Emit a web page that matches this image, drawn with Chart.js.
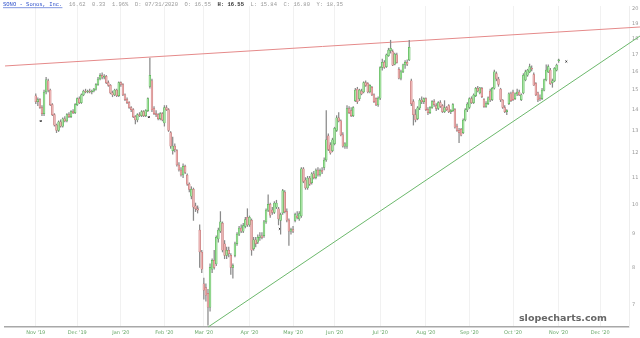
<!DOCTYPE html>
<html>
<head>
<meta charset="utf-8">
<script src="https://cdn.jsdelivr.net/npm/chart.js@4.4.1/dist/chart.umd.min.js"></script>
<style>
  html, body { margin: 0; padding: 0; background: #fff; }
</style>
</head>
<body>
<canvas id="chart" width="640" height="338"></canvas>
<script>
// daily candles, index 0 = first session of Nov '19
const opens = [14.70,14.40,14.50,14.10,13.80,14.90,15.50,15.00,14.25,13.75,13.25,13.00,13.40,13.20,13.55,13.45,13.75,13.65,13.90,13.85,
  14.25,14.55,14.35,14.75,14.95,14.90,14.95,14.90,14.95,15.05,15.30,15.60,15.80,15.70,15.75,15.40,15.25,14.85,14.75,15.00,
  14.70,15.40,15.30,14.75,14.50,14.35,14.10,14.00,13.65,13.50,13.75,13.70,13.90,13.70,13.95,15.20,15.50,14.05,13.80,13.75,
  13.55,13.80,13.35,14.10,14.00,12.90,12.10,12.30,12.10,11.50,11.30,11.10,11.45,11.10,10.75,10.30,10.55,9.95,9.85,9.13,
  8.45,7.55,7.45,7.30,6.95,7.95,8.20,8.10,8.85,9.10,9.35,8.70,8.35,8.50,8.35,8.00,8.35,8.70,9.00,9.20,
  9.10,9.25,9.55,9.30,9.45,8.55,8.82,8.75,8.90,8.95,8.95,9.40,9.80,10.00,9.80,9.72,9.90,9.85,9.45,9.70,
  10.45,9.75,9.46,9.10,9.15,9.45,9.60,9.50,9.60,11.35,10.90,10.60,10.98,10.80,11.15,11.00,11.30,11.10,11.28,11.40,
  11.71,12.75,12.35,12.10,12.40,13.00,13.60,13.45,12.80,12.30,12.30,14.05,13.95,13.70,14.45,15.05,14.55,14.95,14.90,15.40,
  15.35,14.90,15.15,14.75,14.55,14.23,14.58,16.25,16.55,16.30,16.95,17.25,17.20,16.45,17.00,16.15,15.65,16.00,16.40,16.55,
  16.70,15.50,14.40,13.75,13.55,14.08,14.48,14.40,14.55,14.00,13.85,14.10,14.40,14.20,14.05,14.35,14.20,13.90,14.10,14.20,
  13.90,13.95,14.00,13.20,13.00,13.05,12.90,13.49,13.98,14.10,14.55,14.35,14.70,15.10,14.85,15.10,14.50,14.15,14.30,14.95,
  14.50,15.10,15.90,15.60,15.05,14.48,14.10,13.90,14.30,14.80,14.90,14.55,14.80,14.90,14.50,14.85,15.55,15.82,16.00,16.20,
  15.85,15.35,14.85,14.60,14.55,15.00,15.55,16.00,16.10,15.40,15.50,16.10,16.65];
const highs = [14.80,14.60,14.55,14.20,15.00,15.70,15.60,15.05,14.30,13.80,13.30,13.45,13.50,13.60,13.65,13.80,13.85,13.95,14.00,14.30,
  14.60,14.65,14.80,15.00,15.05,15.00,15.05,15.00,15.10,15.35,15.70,15.90,15.95,15.85,15.80,15.50,15.30,14.95,15.05,15.05,
  15.45,15.45,15.35,14.80,14.60,14.40,14.15,14.05,13.70,13.80,13.85,13.95,13.95,14.00,14.60,16.80,15.60,14.15,13.95,13.80,
  13.85,13.85,14.20,14.20,14.05,12.95,12.70,12.40,12.15,11.60,11.40,11.55,11.50,11.15,10.80,10.65,10.60,10.05,9.95,9.30,
  8.50,7.70,7.55,7.40,8.10,8.25,8.50,8.95,9.20,9.75,9.40,8.80,8.60,8.60,8.40,8.10,8.75,9.05,9.25,9.30,
  9.35,9.55,9.85,9.60,9.50,8.90,8.90,8.98,9.05,9.05,9.45,9.85,10.35,10.05,9.90,10.10,10.15,9.90,9.70,10.55,
  10.50,9.85,9.50,9.20,9.25,9.70,9.75,9.75,11.40,11.40,11.00,11.05,11.05,11.20,11.25,11.35,11.40,11.35,11.40,11.80,
  13.95,12.85,12.45,12.65,13.15,13.70,13.85,13.50,12.90,12.45,14.20,14.15,14.10,14.15,15.10,15.15,15.05,15.05,15.45,15.50,
  15.40,15.30,15.20,14.80,14.60,14.65,16.30,16.75,16.65,17.05,17.40,17.90,17.30,17.10,17.10,16.25,16.10,16.45,16.65,16.70,
  17.90,15.60,14.50,14.00,14.15,14.55,14.65,14.60,14.60,14.10,14.15,14.45,14.50,14.30,14.40,14.45,14.25,14.45,14.15,14.25,
  14.00,14.30,14.05,13.30,13.10,13.10,13.55,14.05,14.35,14.60,14.65,14.80,15.15,15.20,15.15,15.15,14.55,14.40,14.65,15.05,
  15.15,16.10,16.00,15.70,15.10,14.50,14.20,14.00,14.85,14.90,15.00,14.85,15.05,15.00,14.80,15.90,16.10,16.15,16.45,16.35,
  15.95,15.40,14.90,14.75,15.10,15.60,16.40,16.40,16.20,15.60,16.25,16.45,16.75];
const lows = [14.30,14.20,14.05,13.70,13.70,14.80,14.90,14.20,13.70,13.20,12.90,12.95,13.15,13.15,13.40,13.40,13.60,13.60,13.80,13.80,
  14.20,14.30,14.30,14.70,14.85,14.85,14.85,14.80,14.90,15.00,15.25,15.55,15.60,15.60,15.35,15.20,14.80,14.65,14.70,14.65,
  14.65,15.20,14.70,14.45,14.30,14.05,13.90,13.60,13.30,13.40,13.65,13.65,13.65,13.65,13.90,15.10,13.90,13.75,13.65,13.50,
  13.50,13.45,13.20,13.95,12.95,12.20,11.95,12.05,11.45,11.25,11.05,11.00,11.15,10.70,10.45,10.20,9.45,9.75,9.70,8.00,
  7.85,7.15,7.10,6.52,6.85,7.85,7.95,8.05,8.75,9.05,8.45,8.25,8.25,8.30,7.80,7.70,8.30,8.65,8.95,9.05,
  9.05,9.20,9.25,9.25,8.35,8.50,8.60,8.70,8.80,8.85,8.90,9.35,9.75,9.55,9.65,9.68,9.85,9.30,9.00,9.65,
  9.70,9.40,8.65,9.00,9.05,9.40,9.50,9.45,9.55,10.80,10.55,10.55,10.70,10.75,10.95,10.95,11.05,11.05,11.15,11.30,
  11.65,12.10,11.95,12.05,12.35,12.95,13.40,12.75,12.25,12.20,12.20,13.80,13.65,13.65,14.40,14.30,14.45,14.75,14.85,15.20,
  14.85,14.85,14.70,14.35,14.20,14.15,14.50,16.10,16.20,16.25,16.90,17.10,16.35,16.40,16.50,15.60,15.55,15.95,16.20,16.35,
  16.65,14.20,13.25,13.40,13.50,14.00,14.30,14.30,13.95,13.75,13.80,14.05,14.15,13.95,14.00,14.10,13.85,13.85,13.95,13.85,
  13.80,13.90,13.10,12.95,12.45,12.75,12.85,13.45,13.90,14.05,14.30,14.30,14.65,14.90,14.80,14.60,14.10,14.10,14.25,14.40,
  14.45,15.05,15.50,15.20,14.40,14.05,13.85,13.75,14.25,14.40,14.45,14.50,14.70,14.70,14.45,14.80,15.50,15.75,15.95,16.05,
  15.25,14.70,14.40,14.45,14.50,14.95,15.50,15.95,15.30,15.15,15.45,16.05,16.55];
const closes = [14.40,14.50,14.10,13.80,14.90,15.55,15.00,14.25,13.75,13.25,13.00,13.40,13.20,13.55,13.45,13.75,13.65,13.90,13.85,14.25,
  14.55,14.35,14.75,14.95,14.90,14.95,14.90,14.95,15.05,15.30,15.60,15.80,15.70,15.75,15.40,15.25,14.85,14.75,15.00,14.70,
  15.40,15.30,14.75,14.50,14.35,14.10,14.00,13.65,13.50,13.75,13.70,13.90,13.70,13.95,14.55,15.80,13.98,13.80,13.75,13.55,
  13.80,13.50,14.10,14.00,13.00,12.30,12.30,12.15,11.50,11.30,11.10,11.45,11.20,10.75,10.55,10.55,9.90,9.85,9.80,8.45,
  7.95,7.38,7.25,6.95,8.00,8.20,8.00,8.90,9.13,9.40,8.50,8.35,8.50,8.40,8.00,8.05,8.70,9.00,9.20,9.10,
  9.28,9.48,9.30,9.55,8.50,8.82,8.70,8.90,8.95,8.90,9.40,9.80,10.00,9.63,9.72,10.05,10.05,9.50,9.65,10.50,
  9.75,9.46,9.10,9.15,9.10,9.65,9.55,9.68,11.35,10.85,10.60,10.98,10.75,11.15,11.00,11.30,11.10,11.28,11.22,11.70,
  12.57,12.15,12.00,12.57,13.10,13.60,13.45,12.80,12.30,12.40,14.05,13.85,13.70,14.10,15.00,14.40,15.00,14.80,15.40,15.25,
  14.90,15.25,14.75,14.40,14.23,14.58,16.25,16.55,16.25,16.99,17.29,17.40,16.39,17.05,16.55,15.65,16.00,16.40,16.55,16.45,
  17.45,14.30,13.75,13.50,14.08,14.48,14.40,14.55,14.00,13.85,14.10,14.40,14.25,14.05,14.35,14.15,13.90,14.10,14.00,13.90,
  13.95,14.25,13.15,13.00,12.90,12.78,13.49,13.98,14.28,14.55,14.35,14.74,15.10,14.95,15.12,14.65,14.15,14.30,14.60,14.48,
  15.10,16.00,15.60,15.30,14.48,14.10,13.90,13.95,14.80,14.45,14.50,14.80,14.90,14.75,14.75,15.80,16.00,16.10,16.30,16.15,
  15.27,14.74,14.48,14.55,15.00,15.55,16.10,16.30,15.35,15.50,16.20,16.39,16.70];

const monthIdx = [0, 20, 41, 62, 81, 103, 124, 144, 166, 188, 209, 230, 252, 272];
const monthLabels = ["Nov '19", "Dec '19", "Jan '20", "Feb '20", "Mar '20", "Apr '20", "May '20",
  "Jun '20", "Jul '20", "Aug '20", "Sep '20", "Oct '20", "Nov '20", "Dec '20"];
const yTicks = [7, 8, 9, 10, 11, 12, 13, 14, 15, 16, 17, 18, 19, 20];

// trend lines drawn on the chart (index, price)
const resistance = [[-14.8, 16.34], [291.2, 18.76]];
const support = [[83.2, 6.48], [291.2, 18.17]];
// small event marks
const marks = [[2.4, 13.44], [54.5, 13.63], [78, 9.85], [117.6, 9.17], [255.7, 16.6]];

const header = [
  { t: 'SONO - Sonos, Inc.', c: '#3355cc', u: true },
  { t: '  16.62  0.33  1.96%  D: 07/31/2020  O: 16.55  ', c: '#999' },
  { t: 'H: 16.55', c: '#333', b: true },
  { t: '  L: 15.84  C: 16.80  Y: 18.35', c: '#999' }
];

const textPlugin = {
  id: 'textPlugin',
  afterDraw(chart) {
    const ctx = chart.ctx;
    ctx.save();
    ctx.textBaseline = 'middle';
    let x = 3;
    header.forEach(s => {
      ctx.font = (s.b ? 'bold ' : '') + '5.5px "Liberation Mono"';
      ctx.fillStyle = s.c;
      ctx.fillText(s.t, x, 4.5);
      const w = ctx.measureText(s.t).width;
      if (s.u) {
        ctx.fillRect(x, 7.5, w, 0.6);
      }
      x += w;
    });
    ctx.font = 'bold 9.5px "DejaVu Sans"';
    ctx.fillStyle = '#666';
    ctx.textAlign = 'right';
    ctx.fillText('slopecharts.com', 607, 319);
    ctx.restore();
  }
};

const up = i => closes[i] >= opens[i];

new Chart(document.getElementById('chart'), {
  type: 'bar',
  data: {
    datasets: [
      {
        label: 'body',
        data: opens.map((o, i) => ({ x: i, y: [o, closes[i]] })),
        backgroundColor: ctx => up(ctx.dataIndex) ? '#a5e3a0' : '#ebb3b3',
        borderColor: ctx => up(ctx.dataIndex) ? '#44a844' : '#c26868',
        borderWidth: 0.5,
        borderSkipped: false,
        barThickness: 1.8,
        minBarLength: 0.8,
        grouped: false
      },
      {
        label: 'wick',
        data: lows.map((l, i) => ({ x: i, y: [l, highs[i]] })),
        backgroundColor: '#8a8a8a',
        barThickness: 0.6,
        grouped: false
      },
      {
        type: 'scatter',
        data: marks.map(m => ({ x: m[0], y: m[1] })),
        pointStyle: 'crossRot',
        pointRadius: 1.3,
        borderColor: '#333',
        borderWidth: 1
      },
      {
        type: 'line',
        data: resistance.map(p => ({ x: p[0], y: p[1] })),
        borderColor: '#e58a8a',
        borderWidth: 1,
        pointRadius: 0,
        clip: false
      },
      {
        type: 'line',
        data: support.map(p => ({ x: p[0], y: p[1] })),
        borderColor: '#6cb86c',
        borderWidth: 1,
        pointRadius: 0,
        clip: false
      }
    ]
  },
  options: {
    responsive: false,
    animation: false,
    devicePixelRatio: 1,
    layout: { padding: 0 },
    plugins: {
      legend: { display: false },
      tooltip: { enabled: false }
    },
    scales: {
      x: {
        type: 'linear',
        min: -14.82,
        max: 285.9,
        offset: false,
        afterBuildTicks: scale => { scale.ticks = monthIdx.map(v => ({ value: v })); },
        afterFit: scale => { scale.height = 11; },
        ticks: {
          autoSkip: false,
          maxRotation: 0,
          padding: 3,
          font: { size: 5, family: 'DejaVu Sans' },
          color: '#6aa86a',
          callback: (v, i) => monthLabels[i]
        },
        grid: { color: '#f1f1f1', drawTicks: false, offset: false },
        border: { color: '#a8a8a8', width: 1.5 }
      },
      y: {
        type: 'logarithmic',
        position: 'right',
        min: 6.476,
        max: 20.21,
        afterBuildTicks: scale => { scale.ticks = yTicks.map(v => ({ value: v })); },
        afterFit: scale => { scale.width = 11; },
        ticks: {
          padding: 3,
          font: { size: 5, family: 'DejaVu Sans' },
          color: '#999',
          callback: v => String(v)
        },
        grid: { display: false, drawTicks: false },
        border: { color: '#eeeeee', width: 1 }
      }
    }
  },
  plugins: [textPlugin]
});
</script>
</body>
</html>
